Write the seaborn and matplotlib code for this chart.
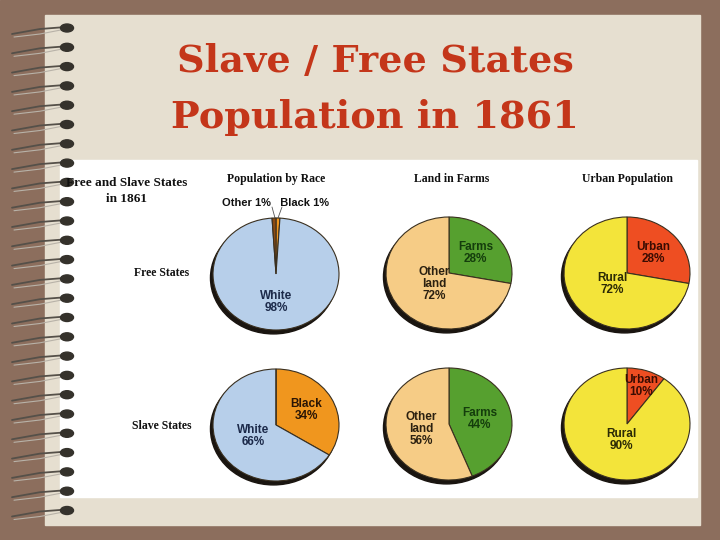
import numpy as np
import matplotlib
matplotlib.use("Agg")
import matplotlib.pyplot as plt
from matplotlib.patches import Rectangle, Ellipse
import seaborn as sns

sns.set_theme(style="white")
plt.rcParams['font.family'] = ['DejaVu Sans']

# ---------------- data ----------------
title_lines = ["Slave / Free States", "Population in 1861"]
panel_title = "Free and Slave States\nin 1861"
col_titles = ["Population by Race", "Land in Farms", "Urban Population"]
row_titles = ["Free States", "Slave States"]

race_labels = ["Black", "White", "Other"]
free_race = [1, 98, 1]
slave_race = [34, 66, 0]

land_labels = ["Farms", "Other\nland"]
free_land = [28, 72]
slave_land = [44, 56]

urban_labels = ["Urban", "Rural"]
free_urban = [28, 72]
slave_urban = [10, 90]

race_colors = ["#F0961E", "#B7CFEA", "#8A4A12"]
land_colors = ["#56A02F", "#F6CC86"]
urban_colors = ["#EE4E22", "#F3E43A"]
race_text = ["#2a1505", "#1c2a4a", "#222222"]
land_text = ["#143d0c", "#2b2010"]
urban_text = ["#3a0c02", "#2b2a05"]

W, H = 720, 540
fig = plt.figure(figsize=(7.2, 5.4), dpi=100)
bg = fig.add_axes([0, 0, 1, 1])
bg.set_xlim(0, W)
bg.set_ylim(H, 0)
bg.axis("off")

# slide background
bg.add_patch(Rectangle((0, 0), W, H, color="#8C6E5D", zorder=0))
bg.add_patch(Rectangle((45, 15), 655, 510, color="#E6DFD0", zorder=1))
bg.add_patch(Rectangle((60, 160), 637, 337, color="white", zorder=2))

# spiral binding
for y in np.arange(28, 515, 19.3):
    bg.plot([12, 40, 66], [y + 6, y + 1, y - 1], color="#555049", lw=1.3, zorder=3,
            solid_capstyle="round")
    bg.plot([14, 40, 66], [y + 9, y + 6, y + 1], color="#B8B2A8", lw=0.8, zorder=3)
    bg.add_patch(Ellipse((67, y), 13, 8, color="#35322c", zorder=4))

# title
for i, t in enumerate(title_lines):
    bg.text(375, 61 + 56 * i, t, ha="center", va="center", fontsize=27.5,
            fontweight="bold", color="#C4361A", family="DejaVu Serif", zorder=5)

bg.text(127, 191, panel_title, ha="center", va="center", fontsize=9.5,
        fontweight="bold", family="Liberation Serif", color="#111", zorder=5,
        linespacing=1.5)
col_x = [276, 452, 627]
for x, t in zip(col_x, col_titles):
    bg.text(x, 179, t, ha="center", va="center", fontsize=8.5, fontweight="bold",
            family="Liberation Serif", color="#111", zorder=5)
row_y = [273, 426]
for y, t in zip(row_y, row_titles):
    bg.text(162, y, t, ha="center", va="center", fontsize=8.5, fontweight="bold",
            family="Liberation Serif", color="#111", zorder=5)


def draw_pie(cx, cy, vals, labels, colors, tcolors, dists, small=False):
    rx, ry = 63, 56
    ax = fig.add_axes([(cx - rx * 1.1) / W, 1 - (cy + ry * 1.1) / H,
                       2.2 * rx / W, 2.2 * ry / H])
    ax.add_patch(Ellipse((-0.04, -0.07), 2.0, 2.0, color="#1a1510", zorder=0))
    wedges, _ = ax.pie(vals, colors=colors, startangle=90, counterclock=False,
                       radius=1.0, wedgeprops=dict(edgecolor="#3a3020", linewidth=0.8),
                       frame=True)
    ax.set_xlim(-1.1, 1.1)
    ax.set_ylim(-1.1, 1.1)
    ax.set_aspect("auto")
    ax.axis("off")
    for w, v, lab, tc, d in zip(wedges, vals, labels, tcolors, dists):
        if v == 0 or (small and v <= 1):
            continue
        ang = np.deg2rad((w.theta1 + w.theta2) / 2)
        x, y = d * np.cos(ang), d * np.sin(ang)
        ax.text(x, y, f"{lab}\n{v}%", ha="center", va="center", fontsize=8.5,
                fontweight="bold", color=tc, family="Liberation Sans",
                linespacing=1.0)
    return ax


# Free states
draw_pie(276, 274, free_race, race_labels, race_colors, race_text, [0, 0.5, 0], small=True)
bg.text(276, 203, f"{race_labels[2]} {free_race[2]}%   {race_labels[0]} {free_race[0]}%",
        ha="center", va="center", fontsize=8, fontweight="bold",
        family="Liberation Sans", color="#111", zorder=5)
bg.plot([272, 275], [207, 218], color="#555", lw=0.6, zorder=5)
bg.plot([282, 278], [207, 218], color="#555", lw=0.6, zorder=5)
draw_pie(449, 273, free_land, land_labels, land_colors, land_text, [0.55, 0.3])
draw_pie(627, 273, free_urban, urban_labels, urban_colors, urban_text, [0.55, 0.3])

# Slave states
draw_pie(276, 425, slave_race, race_labels, race_colors, race_text, [0.55, 0.42, 0])
draw_pie(449, 424, slave_land, land_labels, land_colors, land_text, [0.5, 0.45])
draw_pie(627, 424, slave_urban, urban_labels, urban_colors, urban_text, [0.72, 0.3])

fig.savefig("out.png", dpi=100)
